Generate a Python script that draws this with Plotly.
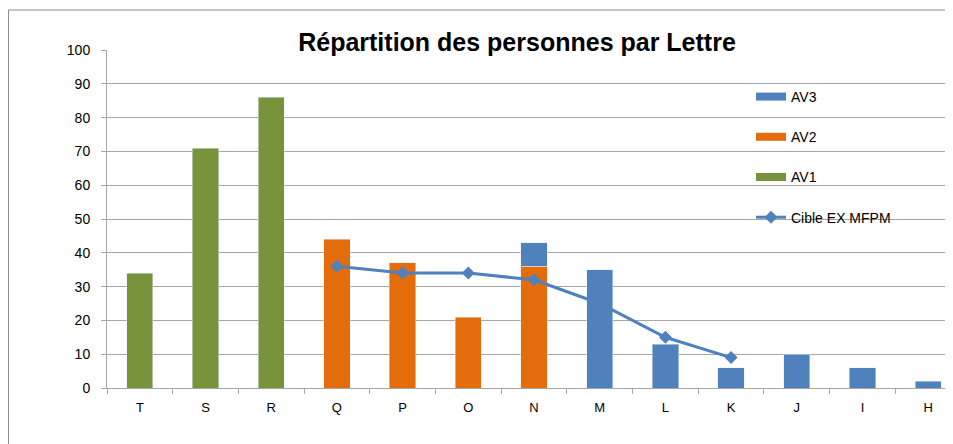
import plotly.graph_objects as go

categories = ["T", "S", "R", "Q", "P", "O", "N", "M", "L", "K", "J", "I", "H"]

av1_cats = ["T", "S", "R"]
av1_vals = [34, 71, 86]

av2_cats = ["Q", "P", "O", "N"]
av2_vals = [44, 37, 21, 36]

av3_cats = ["N", "M", "L", "K", "J", "I", "H"]
av3_vals = [7, 35, 13, 6, 10, 6, 2]

cible_cats = ["Q", "P", "O", "N", "M", "L", "K"]
cible_vals = [36, 34, 34, 32, 25, 15, 9]

y_ticks = list(range(0, 101, 10))

BLUE = "#4F81BD"
ORANGE = "#E46C0A"
GREEN = "#77933C"
FONT = "Liberation Sans"

fig = go.Figure()
# bars (legend shown via wide-rect proxies below)
fig.add_trace(go.Bar(x=av1_cats, y=av1_vals, name="AV1", marker_color=GREEN,
                     width=0.4, showlegend=False, legendgroup="g3"))
fig.add_trace(go.Bar(x=av2_cats, y=av2_vals, name="AV2", marker_color=ORANGE,
                     width=0.4, showlegend=False, legendgroup="g2"))
fig.add_trace(go.Bar(x=av3_cats, y=av3_vals, name="AV3", marker_color=BLUE,
                     width=0.4, showlegend=False, legendgroup="g1"))
fig.add_trace(go.Scatter(x=cible_cats, y=cible_vals, name="Cible EX MFPM",
                         mode="lines+markers",
                         line=dict(color=BLUE, width=3),
                         marker=dict(symbol="diamond", size=10, color=BLUE),
                         legendrank=4, legendgroup="g4"))
# legend proxies (Excel-style wide rectangles)
for nm, col, rank, grp in [("AV3", BLUE, 1, "g1"), ("AV2", ORANGE, 2, "g2"),
                           ("AV1", GREEN, 3, "g3")]:
    fig.add_trace(go.Scatter(x=[None], y=[None], mode="lines", name=nm,
                             line=dict(color=col, width=8),
                             legendrank=rank, legendgroup=grp, hoverinfo="skip"))

# figure coords = page coords - 8 (body margin)
W, H = 945, 436
plot_left, plot_right, plot_top, plot_bottom = 99, 945, 42, 380
pw = plot_right - plot_left
ph = plot_bottom - plot_top

fig.update_layout(
    width=W, height=H,
    margin=dict(l=plot_left, r=W - plot_right, t=plot_top, b=H - plot_bottom, pad=0),
    paper_bgcolor="white", plot_bgcolor="white",
    barmode="stack",
    font=dict(family=FONT, size=14, color="#000000"),
    title=dict(text="<b>Répartition des personnes par Lettre</b>",
               x=(509 - plot_left) / pw, xref="paper", xanchor="center",
               y=1 - 34 / H, yref="container", yanchor="middle",
               font=dict(family=FONT, size=25, color="#000000")),
    showlegend=True,
    legend=dict(x=(743 - plot_left) / pw, xanchor="left",
                y=1 - (73 - plot_top) / ph, yanchor="top",
                bgcolor="rgba(0,0,0,0)", tracegroupgap=19,
                traceorder="grouped",
                font=dict(family=FONT, size=14, color="#000000")),
    xaxis=dict(type="category", categoryorder="array", categoryarray=categories,
               range=[-0.5, -0.5 + 13 * pw / (961 - 107)],
               showline=True, linecolor="#A6A6A6", linewidth=1,
               ticks="outside", ticklen=5, tickcolor="#A6A6A6",
               tickson="boundaries", showgrid=False, ticklabelstandoff=7,
               tickfont=dict(family=FONT, size=13, color="#000000")),
    yaxis=dict(range=[0, 100], tickvals=y_ticks,
               showline=True, linecolor="#A6A6A6", linewidth=1,
               ticks="outside", ticklen=5, tickcolor="#A6A6A6",
               showgrid=True, gridcolor="#A6A6A6", gridwidth=1,
               zeroline=False, ticklabelstandoff=8,
               tickfont=dict(family=FONT, size=14, color="#000000")),
    shapes=[dict(type="rect", xref="paper", yref="paper",
                 x0=(0.5 - plot_left) / pw, x1=1.05,
                 y0=-(470 - plot_bottom) / ph, y1=1 + (plot_top - 2) / ph,
                 line=dict(color="#8C8C8C", width=1), layer="below")],
)

fig.write_html("out.html")
